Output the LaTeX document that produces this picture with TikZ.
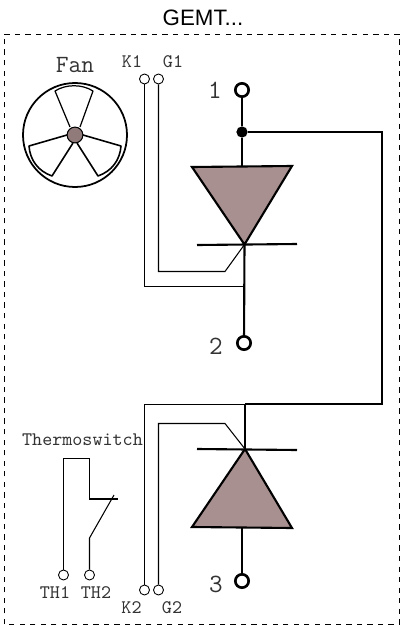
\documentclass[tikz,border=0pt]{standalone}
\usepackage{fontspec}
\setmainfont{Liberation Sans}
\usepackage{tikz}
\definecolor{mauve}{HTML}{A89090}
\definecolor{hubcolor}{HTML}{917A7A}
\definecolor{labelgray}{HTML}{333333}
\tikzstyle{title} = [font=\fontsize{12.7pt}{14pt}\selectfont, text=black]
\tikzstyle{smalllabel} = [font=\ttfamily\fontsize{10.9pt}{12pt}\selectfont, text=labelgray, inner sep=0pt]
\tikzstyle{fanlabel} = [font=\ttfamily\fontsize{14.1pt}{16pt}\selectfont, text=labelgray, inner sep=0pt]
\tikzstyle{numlabel} = [font=\ttfamily\fontsize{15pt}{17pt}\selectfont, text=labelgray, inner sep=0pt]
\tikzstyle{pin} = [circle, draw=black, line width=0.5pt, minimum size=5.7pt, inner sep=0pt]
\tikzstyle{power} = [circle, draw=black, line width=1.5pt, minimum size=7.6pt, inner sep=0pt]
\tikzstyle{junction} = [circle, fill=black, minimum size=6.4pt, inner sep=0pt]
\tikzstyle{wire} = [line width=0.6pt]
\tikzstyle{bus} = [line width=1.2pt]
\tikzstyle{device} = [draw=black, line width=1.2pt, fill=mauve, line join=miter]
\tikzstyle{blade} = [draw=black, line width=0.9pt, line join=round]

\begin{document}
\begin{tikzpicture}[x=0.02cm, y=-0.02cm]
    \useasboundingbox (0,0) rectangle (400,625);
    \node (title) [title] at (203,18) {GEMT...};
    \draw [dashed, line width=0.45pt] (4,624) -- (4,34) -- (399.5,34) -- (399.5,624) -- cycle;

    % fan
    \node (fanlabel) [fanlabel] at (75,65) {Fan};
    \draw [line width=1pt] (75,135) circle (52);
    \draw [blade, line width=0.7pt] (70,127) -- (55,91) .. controls (66,84) and (82,84) .. (93,91) -- (80,127);
    \draw [blade] (67,135) -- (29,146) .. controls (30,160) and (38,171) .. (52,176) -- (73,143);
    \draw [blade] (83,135) -- (121,146) .. controls (120,160) and (112,171) .. (98,176) -- (77,143);
    \node (hub) [circle, fill=hubcolor, draw=black, line width=0.6pt, minimum size=9pt, inner sep=0pt] at (75,135) {};

    % upper device
    \node (k1label) [smalllabel] at (132,62) {K1};
    \node (g1label) [smalllabel] at (173,62) {G1};
    \node (k1) [pin] at (144.5,79) {};
    \node (g1) [pin] at (158.5,79) {};
    \node (t1) [power] at (242,90) {};
    \node (t1label) [numlabel] at (215,90) {1};
    \node (dot) [junction] at (242,132) {};
    \coordinate (top1) at (242,167);
    \coordinate (apex1) at (244.5,244.5);
    \coordinate (k1tap) at (244.5,286.5);
    \coordinate (g1bend) at (225,271.5);
    \node (t2) [power] at (244,343) {};
    \node (t2label) [numlabel] at (216,346) {2};
    \draw [bus] (t1) -- (dot);
    \draw [bus] (dot) -- (top1);
    \draw [device] (192,167) -- (292,166) -- (apex1) -- cycle;
    \draw [bus] (197,245) -- (297,244);
    \draw [bus] (apex1) -- (t2);
    \draw [wire] (k1) |- (k1tap);
    \draw [wire] (g1) |- (g1bend) -- (apex1);

    % link
    \coordinate (corner1) at (382,132);
    \coordinate (corner2) at (382,404);
    \coordinate (top2) at (245,404);
    \coordinate (k2tap) at (245,404.5);
    \draw [bus] (dot) -- (corner1) -- (corner2) -- (top2);

    % lower device
    \node (k2label) [smalllabel] at (131.5,608) {K2};
    \node (g2label) [smalllabel] at (172,608) {G2};
    \node (k2) [pin] at (144.5,590) {};
    \node (g2) [pin] at (158.5,590) {};
    \coordinate (apex2) at (245,449);
    \coordinate (g2bend) at (225,423.5);
    \node (t3) [power] at (242,581) {};
    \node (t3label) [numlabel] at (216,584) {3};
    \coordinate (base2) at (242,527.5);
    \draw [wire] (k2) |- (k2tap);
    \draw [wire] (g2) |- (g2bend) -- (apex2);
    \draw [bus] (top2) -- (apex2);
    \draw [device] (apex2) -- (292,528) -- (192,527) -- cycle;
    \draw [bus] (197,449) -- (297,450);
    \draw [bus] (base2) -- (t3);

    % thermoswitch
    \node (thlabel) [smalllabel] at (82.5,440) {Thermoswitch};
    \node (th1) [pin] at (63.5,575) {};
    \node (th2) [pin] at (89.5,575) {};
    \node (th1label) [smalllabel] at (55,593) {TH1};
    \node (th2label) [smalllabel] at (96,593) {TH2};
    \coordinate (thtop1) at (63.5,458.5);
    \coordinate (thtop2) at (89.5,458.5);
    \coordinate (thmid) at (89.5,499);
    \coordinate (thstop) at (118,499);
    \coordinate (thhinge) at (89.5,538);
    \coordinate (thblade) at (114,495);
    \draw [wire] (th1) -- (thtop1) -- (thtop2) -- (thmid) -- (thstop);
    \draw [wire] (th2) -- (thhinge) -- (thblade);
\end{tikzpicture}
\end{document}
